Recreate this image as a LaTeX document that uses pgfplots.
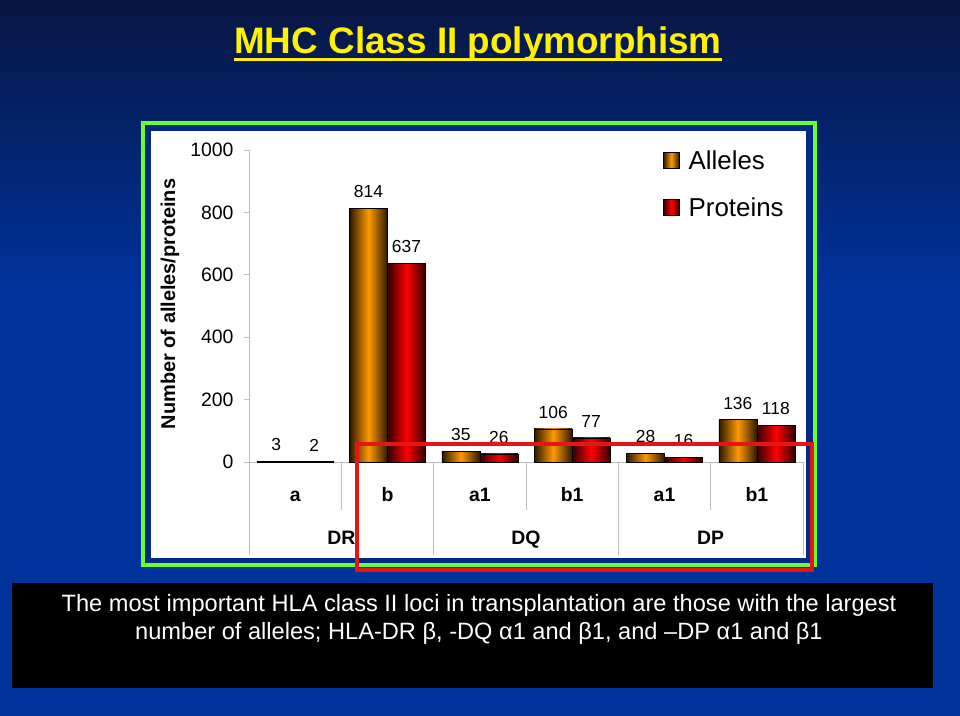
\documentclass[border=0pt]{standalone}
\usepackage{fontspec}
\setmainfont{Liberation Sans}
\usepackage{pgfplots}
\pgfplotsset{compat=1.18}
\definecolor{bgtop}{RGB}{8,22,66}
\definecolor{bgblue}{RGB}{0,50,155}
\definecolor{gbox}{RGB}{102,255,51}
\definecolor{navy}{RGB}{0,40,135}
\definecolor{orng}{RGB}{255,153,0}
\definecolor{orngd}{RGB}{45,25,0}
\definecolor{redm}{RGB}{255,0,0}
\definecolor{redd}{RGB}{50,0,0}
\definecolor{gridg}{RGB}{190,190,190}
\definecolor{annot}{RGB}{230,20,20}
\pgfplotsset{
  abar/.style={ybar, bar width=38bp, bar shift=-19bp, draw=black, line width=0.6bp,
    left color=orngd, right color=orngd, middle color=orng,
    every node near coord/.append style={xshift=-19bp}},
  pbar/.style={ybar, bar width=38bp, bar shift=19bp, draw=black, line width=0.6bp,
    left color=redd, right color=redd, middle color=redm,
    every node near coord/.append style={xshift=19bp}},
}
\begin{document}
\begin{tikzpicture}[x=1bp,y=1bp]
\fill[bgblue] (0,0) rectangle (960,716);
\shade[top color=bgtop, bottom color=bgblue] (0,716) rectangle (960,430);
% title
\node[anchor=base, text=yellow, font=\bfseries\fontsize{37}{40}\selectfont, inner sep=0pt] at (478,662) {MHC Class II polymorphism};
\draw[yellow, line width=3bp] (234,656) -- (722,656);
% framed chart area
\fill[gbox] (141,595) rectangle (817,149);
\fill[navy] (145,591) rectangle (813,153);
\fill[white] (151,585) rectangle (806,158);
\node[rotate=90, font=\bfseries\fontsize{20}{22}\selectfont] at (170,412) {Number of alleles/proteins};
\begin{axis}[
  at={(249bp,254bp)}, anchor=south west,
  scale only axis, width=554bp, height=312bp,
  xmin=-0.5, xmax=5.5, ymin=0, ymax=1000,
  enlargelimits=false, clip=false,
  axis x line*=bottom, axis y line*=left,
  axis line style={gridg, line width=0.8bp},
  ytick={0,200,...,1000},
  xtick={0,...,5}, xticklabels={a,b,a1,b1,a1,b1},
  tick align=outside, major tick length=5bp,
  ytick style={gridg, line width=0.8bp},
  xtick style={draw=none},
  /pgf/number format/assume math mode=true,
  /pgf/number format/1000 sep={},
  yticklabel style={font=\fontsize{19.5}{22}\selectfont, xshift=-7bp},
  xticklabel style={font=\bfseries\fontsize{19.5}{22}\selectfont, anchor=base, yshift=-35bp},
  nodes near coords,
  nodes near coords style={font=\fontsize{17.5}{20}\selectfont, yshift=6.5bp},
  legend style={at={(0.747,1.006)}, anchor=north west, draw=none, fill=none,
    inner sep=0pt, font=\fontsize{26}{30}\selectfont, row sep=23bp,
    /tikz/every odd column/.append style={column sep=7bp}},
  legend cell align=left,
  legend image code/.code={\draw[#1, draw=black, line width=0.6bp] (0bp,-8bp) rectangle (16bp,8bp);},
]
\addplot[abar] coordinates {(0,3)};
\addlegendentry{Alleles}
\addplot[pbar] coordinates {(0,2)};
\addlegendentry{Proteins}
\addplot[abar, forget plot] coordinates {(1,814)};
\addplot[pbar, forget plot] coordinates {(1,637)};
\addplot[abar, forget plot] coordinates {(2,35)};
\addplot[pbar, forget plot] coordinates {(2,26)};
\addplot[abar, forget plot] coordinates {(3,106)};
\addplot[pbar, forget plot] coordinates {(3,77)};
\addplot[abar, forget plot] coordinates {(4,28)};
\addplot[pbar, forget plot] coordinates {(4,16)};
\addplot[abar, forget plot] coordinates {(5,136)};
\addplot[pbar, forget plot] coordinates {(5,118)};
% category separators
\draw[gridg, line width=0.8bp] (axis cs:-0.5,0) -- (axis cs:-0.5,-298);
\draw[gridg, line width=0.8bp] (axis cs:0.5,0) -- (axis cs:0.5,-154);
\draw[gridg, line width=0.8bp] (axis cs:1.5,0) -- (axis cs:1.5,-298);
\draw[gridg, line width=0.8bp] (axis cs:2.5,0) -- (axis cs:2.5,-154);
\draw[gridg, line width=0.8bp] (axis cs:3.5,0) -- (axis cs:3.5,-298);
\draw[gridg, line width=0.8bp] (axis cs:4.5,0) -- (axis cs:4.5,-154);
\draw[gridg, line width=0.8bp] (axis cs:5.5,0) -- (axis cs:5.5,-298);
\node[anchor=base, font=\bfseries\fontsize{19.5}{22}\selectfont] at (axis cs:0.5,-266) {DR};
\node[anchor=base, font=\bfseries\fontsize{19.5}{22}\selectfont] at (axis cs:2.5,-266) {DQ};
\node[anchor=base, font=\bfseries\fontsize{19.5}{22}\selectfont] at (axis cs:4.5,-266) {DP};
\end{axis}
% annotation box
\draw[annot, line width=4bp] (357,272) rectangle (812,146);
% caption box
\fill[black] (12,133) rectangle (933,28);
\node[anchor=base, text=white, font=\fontsize{23.7}{26}\selectfont, inner sep=0pt] at (479,104) {The most important HLA class II loci in transplantation are those with the largest};
\node[anchor=base, text=white, font=\fontsize{23.7}{26}\selectfont, inner sep=0pt] at (479,76) {number of alleles; HLA-DR β, -DQ α1 and β1, and –DP α1 and β1};
\end{tikzpicture}
\end{document}
